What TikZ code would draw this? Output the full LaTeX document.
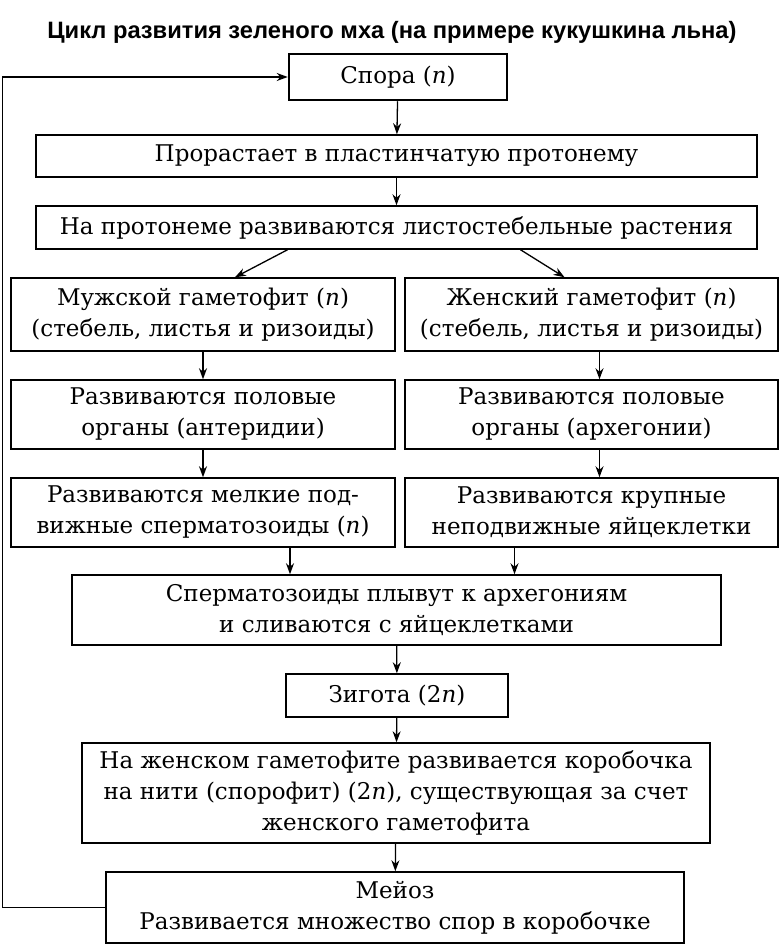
\documentclass[tikz,border=0pt]{standalone}
\usepackage{fontspec}
\setmainfont{DejaVu Serif}
\newfontfamily\headfont{Liberation Sans}
\usetikzlibrary{arrows.meta}

\begin{document}
\begin{tikzpicture}[x=1pt, y=-1pt,
    box/.style={draw, line width=1.5pt, inner sep=0pt, align=center,
        font=\fontsize{23}{31}\selectfont},
    arr/.style={-{Stealth[length=11pt, width=8pt]}, line width=1.3pt}]
\useasboundingbox (0,0) rectangle (780,945);
% Title
\node (title) at (392,32) {\headfont\bfseries\fontsize{23.7}{26}\selectfont Цикл развития зеленого мха (на примере кукушкина льна)};
% Draw boxes
\node[box, line width=2.5pt, minimum width=218pt, minimum height=46pt] (spora) at (398,77) {Спора (\textit{n})};
\node[box, minimum width=721pt, minimum height=42pt] (sprout) at (396.5,156) {Прорастает в пластинчатую протонему};
\node[box, minimum width=721pt, minimum height=43pt] (plants) at (396.5,227.5) {На протонеме развиваются листостебельные растения};
\node[box, minimum width=384pt, minimum height=73pt] (male) at (203,314.5) {Мужской гаметофит (\textit{n})\\(стебель, листья и ризоиды)};
\node[box, minimum width=373pt, minimum height=73pt] (female) at (591.5,314.5) {Женский гаметофит (\textit{n})\\(стебель, листья и ризоиды)};
\node[box, minimum width=384pt, minimum height=69pt] (antheridia) at (203,414.5) {Развиваются половые\\органы (антеридии)};
\node[box, minimum width=373pt, minimum height=69pt] (archegonia) at (591.5,414.5) {Развиваются половые\\органы (архегонии)};
\node[box, minimum width=384pt, minimum height=69pt] (sperm) at (203,512.5) {Развиваются мелкие под-\\вижные сперматозоиды (\textit{n})};
\node[box, minimum width=373pt, minimum height=69pt] (eggs) at (591.5,512.5) {Развиваются крупные\\неподвижные яйцеклетки};
\node[box, minimum width=649pt, minimum height=70pt] (fusion) at (396.5,610) {Сперматозоиды плывут к архегониям\\и сливаются с яйцеклетками};
\node[box, minimum width=222pt, minimum height=43pt] (zygote) at (397,695.5) {Зигота (2\textit{n})};
\node[box, minimum width=628pt, minimum height=100pt] (sporophyte) at (396,793) {На женском гаметофите развивается коробочка\\на нити (спорофит) (2\textit{n}), существующая за счет\\женского гаметофита};
\node[box, minimum width=578pt, minimum height=71pt] (meiosis) at (395,907.5) {Мейоз\\Развивается множество спор в коробочке};
% Draw arrows
\draw[arr] (spora) -- (sprout);
\draw[arr] (sprout) -- (plants);
\draw[arr] ([xshift=-109pt]plants.south) -- ([xshift=32pt]male.north);
\draw[arr] ([xshift=124pt]plants.south) -- ([xshift=-27pt]female.north);
\draw[arr] (male) -- (antheridia);
\draw[arr] (antheridia) -- (sperm);
\draw[arr] ([xshift=8pt]female.south) -- ([xshift=8pt]archegonia.north);
\draw[arr] ([xshift=8pt]archegonia.south) -- ([xshift=8pt]eggs.north);
\draw[arr] ([xshift=87pt]sperm.south) -- ([xshift=87pt]sperm.south |- fusion.north);
\draw[arr] ([xshift=-77pt]eggs.south) -- ([xshift=-77pt]eggs.south |- fusion.north);
\draw[arr] (fusion) -- (zygote);
\draw[arr] (zygote) -- (sporophyte);
\draw[arr] (sporophyte) -- (meiosis);
% Back to the spore
\draw[arr] (meiosis.west) -- ++(-103,0) |- (spora.west);
\end{tikzpicture}
\end{document}
